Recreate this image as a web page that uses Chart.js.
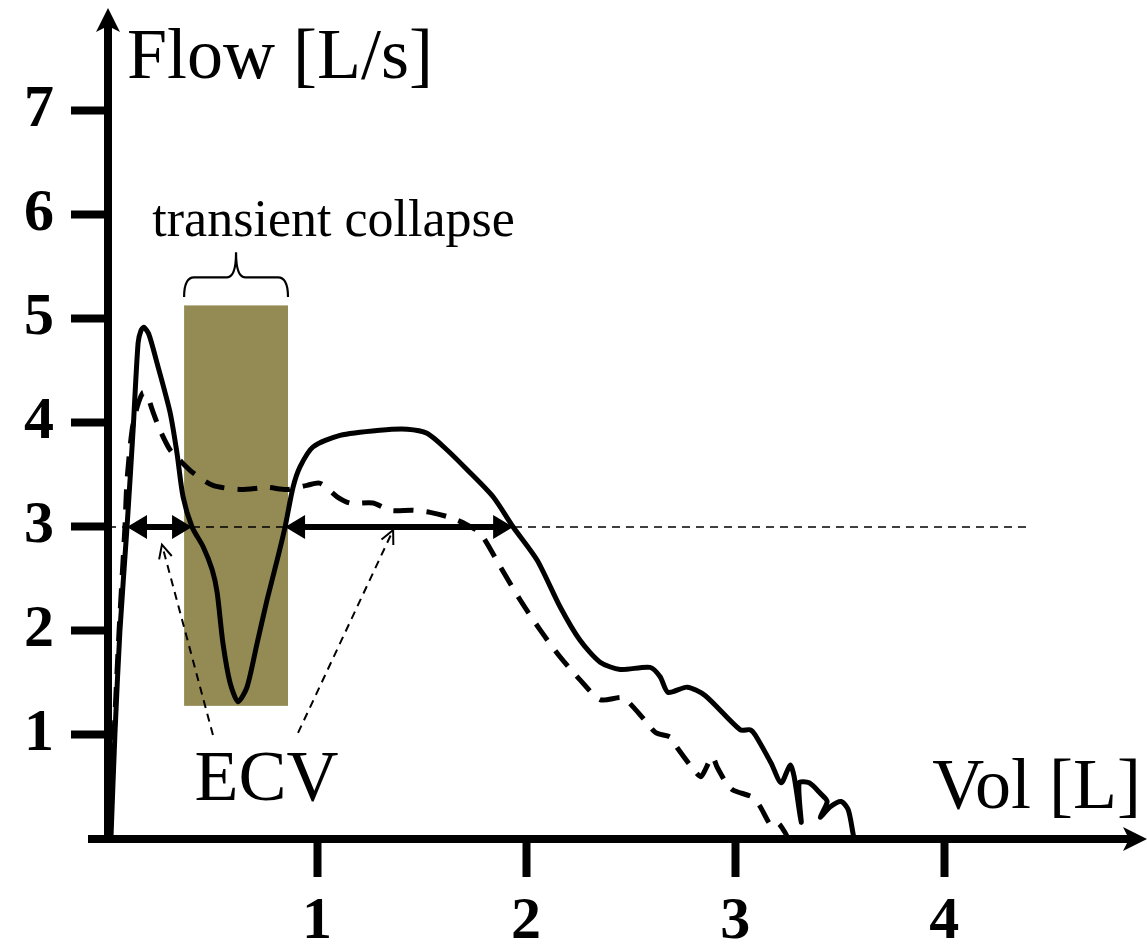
<!DOCTYPE html>
<html><head><meta charset="utf-8">
<script src="https://cdn.jsdelivr.net/npm/chart.js@4.4.1/dist/chart.umd.min.js"></script>
<style>html,body{margin:0;padding:0;background:#fff;overflow:hidden}</style>
</head><body>
<canvas id="c" width="1147" height="944" style="display:block;width:1147px;height:944px"></canvas>
<script>
// ---- data ----
const solidVol  = [0.014,0.033,0.057,0.091,0.120,0.144,0.158,0.172,0.196,0.234,0.297,0.330,0.359,0.402,0.455,0.498,0.522,0.550,0.584,0.622,0.665,0.713,0.761,0.809,0.847,0.885,0.919,0.981,1.110,1.301,1.431,1.526,1.622,1.718,1.842,1.938,2.053,2.163,2.258,2.354,2.450,2.593,2.641,2.679,2.770,2.856,3.024,3.072,3.096,3.172,3.220,3.263,3.282,3.316,3.306,3.354,3.407,3.440,3.407,3.455,3.507,3.541,3.565,3.569];
const solidFlow = [0,1.0,2.0,3.0,3.93,4.77,4.89,4.92,4.85,4.58,4.10,3.71,3.29,3.0,2.81,2.59,2.37,1.88,1.50,1.32,1.46,1.88,2.30,2.68,3.0,3.38,3.58,3.77,3.88,3.93,3.94,3.90,3.74,3.55,3.29,3.0,2.68,2.23,1.91,1.70,1.63,1.65,1.56,1.41,1.46,1.38,1.05,1.05,1.0,0.73,0.54,0.71,0.60,0.16,0.54,0.54,0.44,0.36,0.21,0.31,0.36,0.28,0.04,0];
const dashVol   = [0.010,0.029,0.053,0.081,0.091,0.115,0.139,0.167,0.187,0.211,0.249,0.297,0.344,0.407,0.502,0.632,0.761,0.856,0.952,1.014,1.096,1.158,1.268,1.349,1.459,1.541,1.622,1.699,1.780,1.876,1.971,2.067,2.163,2.258,2.354,2.455,2.488,2.569,2.622,2.689,2.722,2.804,2.837,2.890,2.914,2.957,2.990,3.086,3.120,3.172,3.206,3.239,3.254];
const dashFlow  = [0,1.0,2.0,3.0,3.45,3.93,4.15,4.29,4.27,4.13,3.93,3.74,3.64,3.52,3.40,3.36,3.38,3.36,3.40,3.42,3.29,3.23,3.23,3.16,3.16,3.14,3.10,3.04,2.94,2.62,2.30,2.01,1.75,1.53,1.34,1.36,1.32,1.14,1.02,0.98,0.88,0.66,0.60,0.79,0.69,0.54,0.47,0.40,0.31,0.13,0.15,0.06,0];
const xTickValues = [1,2,3,4];
const yTickValues = [1,2,3,4,5,6,7];
const xAxisMax = 4.97;
const yAxisMax = 7.97;
const refFlow = 3;
const refLineEnd = 4.41;
const ecvSpans = [[0.091,0.402],[0.847,1.938]];
const collapseVol = [0.364,0.861];
const collapseFlow = [1.28,5.13];
const braceFlow = {ends:5.21, bar:5.40, peak:5.64};
const ecvLabel = {vol:0.758, flow:0.375, text:'ECV'};
const ecvPointers = [{from:[0.502,1.0],to:[0.258,2.83]},{from:[0.909,1.02],to:[1.364,2.97]}];
const collapseLabel = {vol:1.079, flow:5.80, text:'transient collapse'};
const xTitle = 'Vol [L]';
const yTitle = 'Flow [L/s]';

const SERIF = '"Liberation Serif", "Times New Roman", serif';

function pts(xs, ys){ return xs.map((x,i)=>({x:x, y:ys[i]})); }

function arrowHead(ctx, tx, ty, ang, len, half, notch){
  ctx.save();
  ctx.translate(tx, ty); ctx.rotate(ang);
  ctx.beginPath();
  ctx.moveTo(0,0);
  ctx.lineTo(-len, -half);
  ctx.lineTo(-len+notch, 0);
  ctx.lineTo(-len, half);
  ctx.closePath();
  ctx.fill();
  ctx.restore();
}

const annot = {
  id:'annot',
  beforeDatasetsDraw(chart){
    const ctx = chart.ctx, xs = chart.scales.x, ys = chart.scales.y;
    ctx.save();
    ctx.fillStyle = '#948A54';
    const x0 = xs.getPixelForValue(collapseVol[0]), x1 = xs.getPixelForValue(collapseVol[1]);
    const y0 = ys.getPixelForValue(collapseFlow[1]), y1 = ys.getPixelForValue(collapseFlow[0]);
    ctx.fillRect(x0, y0, x1-x0, y1-y0);
    ctx.restore();
  },
  afterDatasetsDraw(chart){
    const ctx = chart.ctx, xs = chart.scales.x, ys = chart.scales.y, ca = chart.chartArea;
    const X = v=>xs.getPixelForValue(v), Y = v=>ys.getPixelForValue(v);
    ctx.save();
    ctx.strokeStyle = '#000'; ctx.fillStyle = '#000';
    // reference dashed line
    ctx.lineWidth = 1.6; ctx.setLineDash([8,6]);
    ctx.beginPath(); ctx.moveTo(X(0), Y(refFlow)); ctx.lineTo(X(refLineEnd), Y(refFlow)); ctx.stroke();
    ctx.setLineDash([]);
    // ECV double arrows
    ecvSpans.forEach(([a,b])=>{
      const xa = X(a), xb = X(b), y = Y(refFlow);
      ctx.lineWidth = 6;
      ctx.beginPath(); ctx.moveTo(xa+15, y); ctx.lineTo(xb-15, y); ctx.stroke();
      arrowHead(ctx, xa, y, Math.PI, 20, 12, 0);
      arrowHead(ctx, xb, y, 0, 20, 12, 0);
    });
    // ECV pointers
    ecvPointers.forEach(p=>{
      const fx = X(p.from[0]), fy = Y(p.from[1]), tx = X(p.to[0]), ty = Y(p.to[1]);
      ctx.lineWidth = 2; ctx.setLineDash([8,6]);
      ctx.beginPath(); ctx.moveTo(fx, fy); ctx.lineTo(tx, ty); ctx.stroke();
      ctx.setLineDash([]);
      const ang = Math.atan2(ty-fy, tx-fx);
      ctx.beginPath();
      ctx.moveTo(tx - 15*Math.cos(ang-0.45), ty - 15*Math.sin(ang-0.45));
      ctx.lineTo(tx, ty);
      ctx.lineTo(tx - 15*Math.cos(ang+0.45), ty - 15*Math.sin(ang+0.45));
      ctx.stroke();
    });
    // brace
    const bx0 = X(collapseVol[0]), bx1 = X(collapseVol[1]), bm = (bx0+bx1)/2;
    const ye = Y(braceFlow.ends), yb = Y(braceFlow.bar), yp = Y(braceFlow.peak);
    ctx.lineWidth = 2.2;
    ctx.beginPath();
    ctx.moveTo(bx0, ye);
    ctx.quadraticCurveTo(bx0, yb, bx0+10, yb);
    ctx.lineTo(bm-9, yb);
    ctx.quadraticCurveTo(bm, yb, bm, yp);
    ctx.quadraticCurveTo(bm, yb, bm+9, yb);
    ctx.lineTo(bx1-10, yb);
    ctx.quadraticCurveTo(bx1, yb, bx1, ye);
    ctx.stroke();
    // texts
    ctx.textBaseline = 'alphabetic';
    ctx.font = '52px ' + SERIF; ctx.textAlign = 'center';
    ctx.fillText(collapseLabel.text, X(collapseLabel.vol), Y(collapseLabel.flow));
    ctx.font = '72px ' + SERIF;
    ctx.fillText(ecvLabel.text, X(ecvLabel.vol), Y(ecvLabel.flow));
    ctx.textAlign = 'left';
    ctx.fillText(yTitle, ca.left + 19, ca.top + 68);
    ctx.textAlign = 'right';
    ctx.fillText(xTitle, ca.right - 6, ca.bottom - 31);
    // axes
    ctx.lineWidth = 8;
    ctx.beginPath(); ctx.moveTo(ca.left - 20, ca.bottom); ctx.lineTo(ca.right - 12, ca.bottom); ctx.stroke();
    ctx.beginPath(); ctx.moveTo(ca.left, ca.bottom + 4); ctx.lineTo(ca.left, ca.top + 12); ctx.stroke();
    arrowHead(ctx, ca.right, ca.bottom, 0, 24, 12, 6);
    arrowHead(ctx, ca.left, ca.top - 2, -Math.PI/2, 24, 12, 6);
    ctx.restore();
  }
};

const tickFont = {family:SERIF, size:60, weight:'bold', lineHeight:1};
function zeroPad(s){ s.paddingTop = 0; s.paddingBottom = 0; s.paddingLeft = 0; s.paddingRight = 0; }

new Chart(document.getElementById('c'), {
  type:'scatter',
  data:{datasets:[
    {data:pts(solidVol, solidFlow), showLine:true, borderColor:'#000', borderWidth:5, pointRadius:0, tension:0.25, fill:false},
    {data:pts(dashVol, dashFlow), showLine:true, borderColor:'#000', borderWidth:5, borderDash:[20,13], pointRadius:0, tension:0.25, fill:false}
  ]},
  options:{
    responsive:false, animation:false, devicePixelRatio:1,
    layout:{padding:{top:10,left:0,right:0,bottom:0}},
    plugins:{legend:{display:false}, tooltip:{enabled:false}},
    scales:{
      x:{type:'linear', min:0, max:xAxisMax,
        border:{display:false},
        grid:{drawOnChartArea:false, drawTicks:true, tickLength:38, tickWidth:8, tickColor:'#000', color:'#000'},
        ticks:{font:tickFont, color:'#000', padding:15, maxRotation:0, autoSkip:false},
        afterBuildTicks:s=>{ s.ticks = xTickValues.map(v=>({value:v})); },
        afterFit:s=>{ s.height = 105; zeroPad(s); }
      },
      y:{type:'linear', min:0, max:yAxisMax,
        border:{display:false},
        grid:{drawOnChartArea:false, drawTicks:true, tickLength:37, tickWidth:8, tickColor:'#000', color:'#000'},
        ticks:{font:tickFont, color:'#000', padding:17, autoSkip:false},
        afterBuildTicks:s=>{ s.ticks = yTickValues.map(v=>({value:v})); },
        afterFit:s=>{ s.width = 108; zeroPad(s); }
      }
    }
  },
  plugins:[annot]
});
</script>
</body></html>
